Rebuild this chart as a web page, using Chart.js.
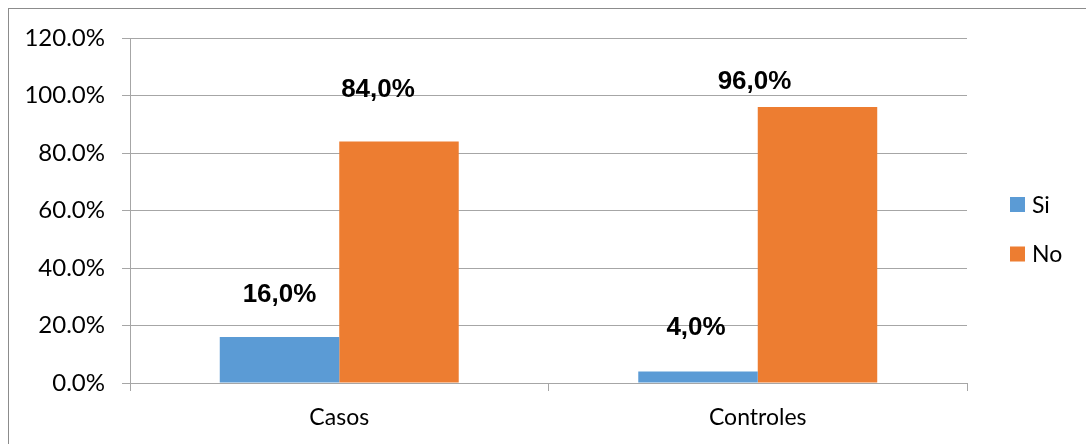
<!DOCTYPE html>
<html>
<head>
<meta charset="utf-8">
<script src="https://cdn.jsdelivr.net/npm/chart.js"></script>
<style>
    html, body { margin: 0; padding: 0; background: #fff; }
    #wrap { width: 1086px; height: 444px; }
</style>
</head>
<body>
<div id="wrap"><canvas id="grafico" width="1086" height="444"></canvas></div>
<script>
const categorias = ['Casos', 'Controles'];
const series = ['Si', 'No'];
const valoresSi = [16.0, 4.0];
const valoresNo = [84.0, 96.0];
const ticksY = [0, 20, 40, 60, 80, 100, 120];

// where each value label sits relative to its bar (x shift, height above bar top)
const shiftX = [[0, -2], [-21, -63]];
const rise = [[42, 44], [52, 25]];

const colores = ['#5b9bd5', '#ed7d31'];
const gris = '#a6a6a6';
const fuenteEje = 'Lato, "Liberation Sans", sans-serif';

const marco = {
    id: 'marco',
    beforeDraw: (c) => {
        const ctx = c.ctx;
        ctx.save();
        ctx.strokeStyle = '#8c8c8c';
        ctx.lineWidth = 1;
        ctx.strokeRect(8.5, 8.5, 1200, 600);
        ctx.restore();
    }
};

const etiquetas = {
    id: 'etiquetas',
    afterDatasetsDraw: (c) => {
        const ctx = c.ctx;
        ctx.save();
        ctx.font = 'bold 26px "Liberation Sans", Arial, sans-serif';
        ctx.fillStyle = '#000';
        ctx.textAlign = 'center';
        ctx.textBaseline = 'middle';
        c.data.datasets.forEach((ds, i) => {
            c.getDatasetMeta(i).data.forEach((bar, j) => {
                const txt = ds.data[j].toFixed(1).replace('.', ',') + '%';
                ctx.fillText(txt, bar.x + shiftX[i][j], bar.y - rise[i][j]);
            });
        });
        ctx.restore();
    }
};

const leyenda = {
    id: 'leyenda',
    afterDraw: (c) => {
        const ctx = c.ctx;
        ctx.save();
        ctx.font = '23px ' + fuenteEje;
        ctx.textBaseline = 'middle';
        ctx.textAlign = 'left';
        c.data.datasets.forEach((ds, i) => {
            const y = 204.5 + i * 49.5;
            ctx.fillStyle = ds.backgroundColor;
            ctx.fillRect(1010, y - 7.5, 15, 15);
            ctx.fillStyle = '#000';
            ctx.fillText(ds.label, 1032, y + 1);
        });
        ctx.restore();
    }
};

new Chart(document.getElementById('grafico'), {
    type: 'bar',
    data: {
        labels: categorias,
        datasets: [
            { label: series[0], data: valoresSi, backgroundColor: colores[0], borderWidth: 0 },
            { label: series[1], data: valoresNo, backgroundColor: colores[1], borderWidth: 0 }
        ]
    },
    options: {
        responsive: false,
        animation: false,
        devicePixelRatio: 1,
        layout: { padding: { top: 38, right: 119, left: 0, bottom: 0 } },
        datasets: { bar: { categoryPercentage: 0.571, barPercentage: 1.0 } },
        plugins: {
            legend: { display: false },
            tooltip: { enabled: false }
        },
        scales: {
            x: {
                grid: { drawOnChartArea: false, color: gris, tickLength: 8, offset: true },
                border: { color: gris },
                ticks: { color: '#000', font: { family: fuenteEje, size: 23 }, padding: 13 },
                afterFit: (s) => { s.height = 61; }
            },
            y: {
                min: 0,
                max: 120,
                afterBuildTicks: (s) => { s.ticks = ticksY.map(v => ({ value: v })); },
                grid: { color: gris, tickLength: 8 },
                border: { color: gris },
                ticks: {
                    color: '#000',
                    font: { family: fuenteEje, size: 24 },
                    padding: 17,
                    callback: (v) => v.toFixed(1) + '%'
                },
                afterFit: (s) => { s.width = 130; }
            }
        }
    },
    plugins: [marco, etiquetas, leyenda]
});
</script>
</body>
</html>
